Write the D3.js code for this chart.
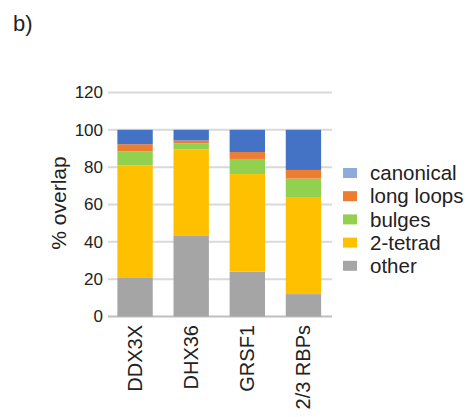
<!DOCTYPE html>
<html>
<head>
<meta charset="utf-8">
<script src="https://cdn.jsdelivr.net/npm/d3@7"></script>
<style>
  html, body { margin: 0; padding: 0; background: #fff; }
  svg { display: block; font-family: "Liberation Sans", Arial, sans-serif; }
</style>
</head>
<body>
<svg id="chart" width="471" height="417"></svg>
<script>
// Stacked shares of G4 structure classes per protein set
const categories = ["DDX3X", "DHX36", "GRSF1", "2/3 RBPs"];
const other      = [21, 43.5, 24, 12];
const twoTetrad  = [60, 46, 52.3, 52];
const bulges     = [7.4, 3.2, 8.1, 9.9];
const longLoops  = [3.9, 1.6, 3.7, 4.6];
const canonical  = [7.7, 5.7, 11.9, 21.5];
const yTicks     = [0, 20, 40, 60, 80, 100, 120];

const seriesNames  = ["other", "2-tetrad", "bulges", "long loops", "canonical"];
const seriesValues = [other, twoTetrad, bulges, longLoops, canonical];
const barColors    = ["#a5a5a5", "#ffc000", "#92d050", "#ed7d31", "#4472c4"];
const legendColors = ["#a5a5a5", "#ffc000", "#92d050", "#ed7d31", "#8faadc"];

const rows = categories.map((c, i) => {
  const r = { cat: c };
  seriesNames.forEach((s, k) => { r[s] = seriesValues[k][i]; });
  return r;
});
const stacked = d3.stack().keys(seriesNames)(rows);

const svg = d3.select("#chart");

const x = d3.scaleBand().domain(categories).range([107, 331.5]).paddingInner(0.37).paddingOuter(0.185);
const y = d3.scaleLinear().domain([0, 120]).range([316.5, 92.5]);

// gridlines
svg.append("g")
  .selectAll("line")
  .data(yTicks)
  .join("line")
  .attr("x1", 108).attr("x2", 332)
  .attr("y1", d => y(d)).attr("y2", d => y(d))
  .attr("stroke", d => d === 0 ? "#bfbfbf" : "#d9d9d9")
  .attr("stroke-width", 2);

// y tick labels
const yAxis = d3.axisLeft(y).tickValues(yTicks).tickSize(0).tickPadding(0);
const gy = svg.append("g").attr("transform", "translate(103,0)").call(yAxis);
gy.select(".domain").remove();
gy.selectAll("text")
  .attr("font-size", 17)
  .attr("fill", "#222")
  .attr("font-family", "Liberation Sans, Arial, sans-serif");

// bars
svg.append("g")
  .selectAll("g")
  .data(stacked)
  .join("g")
  .attr("fill", (d, i) => barColors[i])
  .selectAll("rect")
  .data(d => d)
  .join("rect")
  .attr("x", d => x(d.data.cat))
  .attr("width", x.bandwidth())
  .attr("y", d => y(d[1]))
  .attr("height", d => y(d[0]) - y(d[1]));

// x labels, rotated
const xAxis = d3.axisBottom(x).tickSize(0).tickPadding(0);
const gx = svg.append("g").attr("transform", "translate(0,325)").call(xAxis);
gx.select(".domain").remove();
gx.selectAll("text")
  .attr("font-size", 20)
  .attr("fill", "#222")
  .attr("font-family", "Liberation Sans, Arial, sans-serif")
  .attr("text-anchor", "end")
  .attr("transform", "rotate(-90)")
  .attr("x", 0).attr("y", 0).attr("dy", "0.35em");

// y axis title
svg.append("text")
  .attr("transform", "translate(59,203) rotate(-90)")
  .attr("text-anchor", "middle")
  .attr("dy", "0.35em")
  .attr("font-size", 21)
  .attr("fill", "#222")
  .text("% overlap");

// legend (top to bottom: canonical first)
const legendOrder = [4, 3, 2, 1, 0];
const lg = svg.append("g");
legendOrder.forEach((k, j) => {
  const yy = 173 + j * 23.2;
  lg.append("rect").attr("x", 343).attr("y", yy - 5).attr("width", 14).attr("height", 10)
    .attr("fill", legendColors[k]);
  lg.append("text").attr("x", 370).attr("y", yy).attr("dy", "0.35em")
    .attr("font-size", 20.5).attr("fill", "#222").text(seriesNames[k]);
});

// panel label
svg.append("text").attr("x", 13).attr("y", 31).attr("font-size", 22).attr("fill", "#222").text("b)");
</script>
</body>
</html>
